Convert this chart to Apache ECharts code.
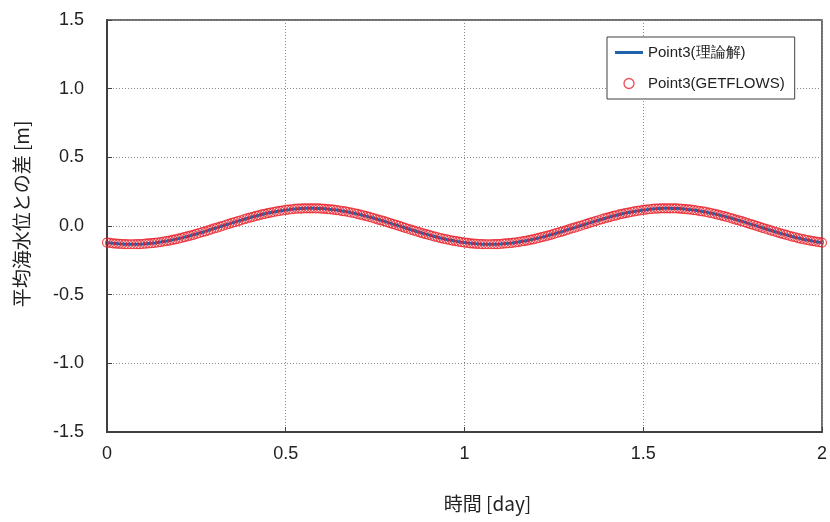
<!DOCTYPE html>
<html>
<head>
<meta charset="utf-8">
<script src="https://cdn.jsdelivr.net/npm/echarts@6/dist/echarts.min.js"></script>
<style>html,body{margin:0;padding:0;background:#fff}#c{width:830px;height:522px}</style>
</head>
<body>
<div id="c"></div>
<script>
// Sample times in minutes (12-minute sampling)
const timeMinutes = [0,12,24,36,48,60,72,84,96,108,120,132,144,156,168,180,192,204,216,228,240,252,264,276,288,300,312,324,336,348,360,372,384,396,408,420,432,444,456,468,480,492,504,516,528,540,552,564,576,588,600,612,624,636,648,660,672,684,696,708,720,732,744,756,768,780,792,804,816,828,840,852,864,876,888,900,912,924,936,948,960,972,984,996,1008,1020,1032,1044,1056,1068,1080,1092,1104,1116,1128,1140,1152,1164,1176,1188,1200,1212,1224,1236,1248,1260,1272,1284,1296,1308,1320,1332,1344,1356,1368,1380,1392,1404,1416,1428,1440,
1452,1464,1476,1488,1500,1512,1524,1536,1548,1560,1572,1584,1596,1608,1620,1632,1644,1656,1668,1680,1692,1704,1716,1728,1740,1752,1764,1776,1788,1800,1812,1824,1836,1848,1860,1872,1884,1896,1908,1920,1932,1944,1956,1968,1980,1992,2004,2016,2028,2040,2052,2064,2076,2088,2100,2112,2124,2136,2148,2160,2172,2184,2196,2208,2220,2232,2244,2256,2268,2280,2292,2304,2316,2328,2340,2352,2364,2376,2388,2400,2412,2424,2436,2448,2460,2472,2484,2496,2508,2520,2532,2544,2556,2568,2580,2592,2604,2616,2628,2640,2652,2664,2676,2688,2700,2712,2724,2736,2748,2760,2772,2784,2796,2808,2820,2832,2844,2856,2868,2880];

// Point3 theoretical solution [m]
const theoryValues = [-0.121,-0.123,-0.126,-0.128,-0.130,-0.131,-0.132,-0.133,-0.133,-0.133,-0.132,-0.132,-0.131,-0.129,-0.127,-0.125,-0.123,-0.120,-0.117,-0.113,-0.110,-0.106,-0.101,-0.097,-0.092,-0.087,-0.081,-0.076,-0.070,-0.064,-0.058,-0.051,-0.045,-0.039,-0.032,-0.025,-0.018,-0.012,-0.005,0.002,0.009,0.016,0.023,0.029,0.036,0.042,0.049,0.055,0.061,0.067,0.073,0.078,0.084,0.089,0.094,0.098,0.102,0.106,0.110,0.113,0.117,0.119,0.122,0.124,0.126,0.127,0.128,0.129,0.129,0.129,0.128,0.128,0.127,0.125,0.123,0.121,0.119,0.116,0.113,0.109,0.106,0.102,0.097,0.093,0.088,0.083,0.077,0.072,0.066,0.060,0.054,0.047,0.041,0.035,0.028,0.021,0.014,0.008,0.001,-0.006,-0.013,-0.020,-0.027,-0.033,-0.040,-0.046,-0.053,-0.059,-0.065,-0.071,-0.077,-0.082,-0.088,-0.093,-0.098,-0.102,-0.106,-0.110,-0.114,-0.118,-0.121,
-0.123,-0.126,-0.128,-0.130,-0.131,-0.132,-0.133,-0.133,-0.133,-0.132,-0.132,-0.131,-0.129,-0.127,-0.125,-0.123,-0.120,-0.117,-0.113,-0.110,-0.106,-0.101,-0.097,-0.092,-0.087,-0.081,-0.076,-0.070,-0.064,-0.058,-0.051,-0.045,-0.039,-0.032,-0.025,-0.018,-0.012,-0.005,0.002,0.009,0.016,0.023,0.029,0.036,0.042,0.049,0.055,0.061,0.067,0.073,0.078,0.084,0.089,0.094,0.098,0.102,0.106,0.110,0.113,0.117,0.119,0.122,0.124,0.126,0.127,0.128,0.129,0.129,0.129,0.128,0.128,0.127,0.125,0.123,0.121,0.119,0.116,0.113,0.109,0.106,0.102,0.097,0.093,0.088,0.083,0.077,0.072,0.066,0.060,0.054,0.047,0.041,0.035,0.028,0.021,0.014,0.008,0.001,-0.006,-0.013,-0.020,-0.027,-0.033,-0.040,-0.046,-0.053,-0.059,-0.065,-0.071,-0.077,-0.082,-0.088,-0.093,-0.098,-0.102,-0.106,-0.110,-0.114,-0.118,-0.121];

// Point3 GETFLOWS result [m] (overlays the theoretical curve)
const getflowsValues = theoryValues.slice();

const seriesNames = ['Point3(理論解)', 'Point3(GETFLOWS)'];
const xTickLabels = ['0', '0.5', '1', '1.5', '2'];
const yTickLabels = ['-1.5', '-1.0', '-0.5', '0.0', '0.5', '1.0', '1.5'];
const xAxisTitle = '時間 [day]';
const yAxisTitle = '平均海水位との差 [m]';

const minutesPerDay = 1440;
const lineData = timeMinutes.map((m, i) => [m / minutesPerDay, theoryValues[i]]);
const markerData = timeMinutes.map((m, i) => [m / minutesPerDay, getflowsValues[i]]);

const chart = echarts.init(document.getElementById('c'), null, {renderer: 'canvas'});
const xLabelMap = {}; xTickLabels.forEach(s => xLabelMap[Number(s).toFixed(2)] = s);
const yLabelMap = {}; yTickLabels.forEach(s => yLabelMap[Number(s).toFixed(2)] = s);

const RED = '#e8202a';
const BLUE = '#1f62ad';

chart.setOption({
  animation: false,
  backgroundColor: '#fff',
  grid: {left: 107, right: 7, top: 20, bottom: 90, show: true, borderColor: '#404040', borderWidth: 1.5, containLabel: false},
  legend: {
    orient: 'vertical', left: 607, top: 37,
    padding: [8, 10, 8, 8], itemGap: 16, itemWidth: 28, itemHeight: 10,
    backgroundColor: '#fff', borderColor: '#404040', borderWidth: 1,
    textStyle: {fontFamily: 'Liberation Sans, Arial, sans-serif', fontSize: 15, color: '#222'},
    data: [
      {name: seriesNames[0], icon: 'path://M0 0H28V3H0Z', itemStyle: {color: BLUE}},
      {name: seriesNames[1], icon: 'circle', itemStyle: {color: 'rgba(255,255,255,0)', borderColor: RED, borderWidth: 1.3}}
    ]
  },
  xAxis: {
    type: 'value', min: 0, max: 2, interval: 0.5,
    name: xAxisTitle, nameLocation: 'middle', nameGap: 62,
    nameTextStyle: {fontFamily: 'Liberation Sans Narrow, Noto Sans CJK JP, sans-serif', fontSize: 19, color: '#222', padding: [0, 0, 0, 46]},
    axisLine: {show: true, onZero: false, lineStyle: {color: '#404040', width: 2}},
    axisTick: {show: true, inside: true, length: 5, lineStyle: {color: '#404040'}},
    axisLabel: {margin: 13, fontFamily: 'Liberation Sans Narrow, sans-serif', fontSize: 18, color: '#222',
      formatter: v => xLabelMap[v.toFixed(2)] ?? ''},
    splitLine: {show: true, lineStyle: {color: '#888', type: [1, 2], width: 1}}
  },
  yAxis: {
    type: 'value', min: -1.5, max: 1.5, interval: 0.5,
    name: yAxisTitle, nameLocation: 'middle', nameGap: 76, nameRotate: 90,
    nameTextStyle: {fontFamily: 'Noto Sans CJK JP, sans-serif', fontSize: 19, color: '#222', padding: [0, 0, 0, 24]},
    axisLine: {show: true, onZero: false, lineStyle: {color: '#404040', width: 2}},
    axisTick: {show: true, inside: true, length: 5, lineStyle: {color: '#404040'}},
    axisLabel: {margin: 23, fontFamily: 'Liberation Sans, Arial, sans-serif', fontSize: 18, color: '#222',
      formatter: v => yLabelMap[v.toFixed(2)] ?? ''},
    splitLine: {show: true, lineStyle: {color: '#888', type: [1, 2], width: 1}}
  },
  series: [
    {name: seriesNames[0], type: 'line', data: lineData, showSymbol: false, symbol: 'none',
      lineStyle: {color: BLUE, width: 3}, itemStyle: {color: BLUE}, z: 2},
    {name: seriesNames[1], type: 'scatter', data: markerData, symbol: 'circle', symbolSize: 9,
      itemStyle: {color: 'rgba(255,255,255,0)', borderColor: RED, borderWidth: 1.2}, z: 3}
  ]
});
</script>
</body>
</html>
